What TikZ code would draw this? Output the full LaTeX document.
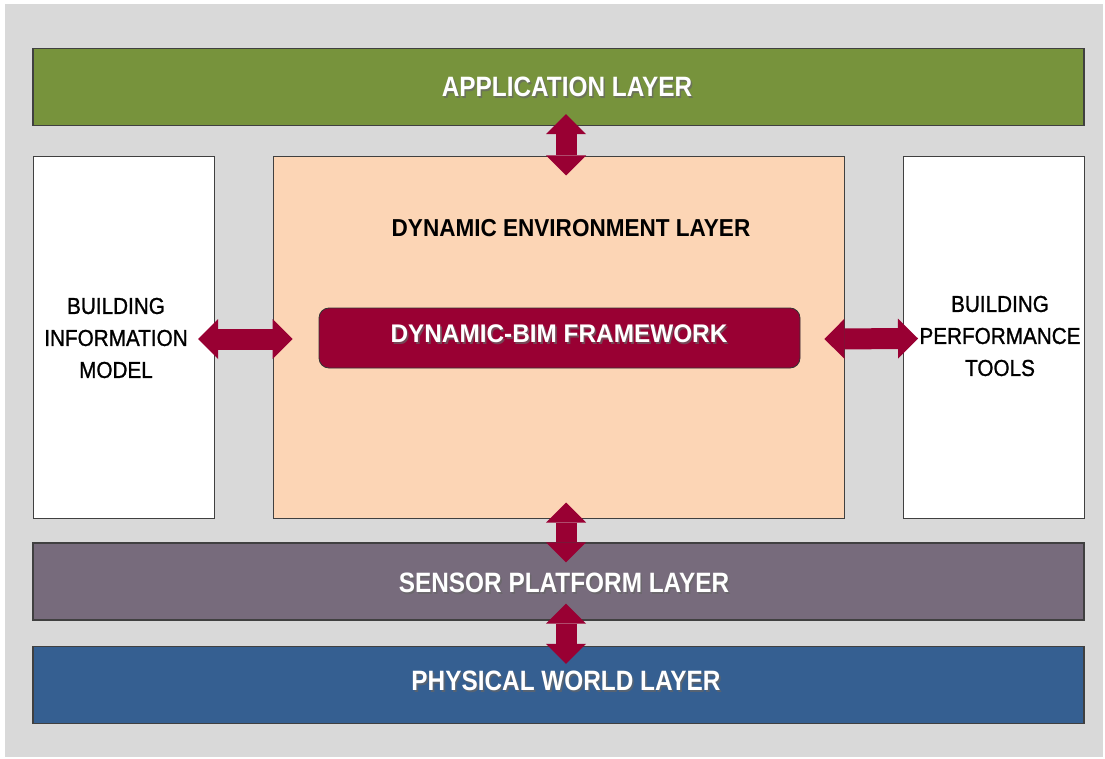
\documentclass[tikz,border=0pt]{standalone}
\usepackage{fontspec}
\setmainfont{Liberation Sans}
\newfontfamily\sidefam[FakeBold=1.2]{Liberation Sans}
\usetikzlibrary{arrows.meta,calc}
\definecolor{bggray}{HTML}{D9D9D9}
\definecolor{appgreen}{HTML}{77933C}
\definecolor{envpeach}{HTML}{FCD5B5}
\definecolor{fwred}{HTML}{990033}
\definecolor{sensgray}{HTML}{776B7C}
\definecolor{physblue}{HTML}{355F91}
\definecolor{edgegray}{HTML}{404040}
\newcommand{\layerfont}{\fontsize{28}{30}\selectfont\bfseries}
\newcommand{\sideline}[1]{\scalebox{0.9}[1]{#1}}
\newcommand{\shadowlabel}[4]{% name, position, horizontal scale, text
  \node[text=black!60, opacity=0.7, inner sep=0pt] (#1s) at ($(#2)+(1.6,1.6)$) {\layerfont\scalebox{#3}[1]{#4}};
  \node[text=white, inner sep=0pt] (#1) at (#2) {\layerfont\scalebox{#3}[1]{#4}};}
\begin{document}
\begin{tikzpicture}[x=1pt,y=-1pt,
  layerbox/.style={draw=edgegray, line width=1.3pt, minimum width=1051pt, minimum height=77pt, inner sep=0pt},
  sidebox/.style={draw=edgegray, line width=1pt, fill=white, minimum width=181pt, minimum height=361pt, inner sep=0pt},
  dblarrow/.style={draw=fwred, line width=21pt,
    {Triangle[width=40pt,length=20pt,line width=0pt]}-{Triangle[width=40pt,length=20pt,line width=0pt]}},
  sidetext/.style={align=center, inner sep=0pt, font=\fontsize{23}{32}\selectfont\sidefam}]
\useasboundingbox (0,0) rectangle (1105,759);
\fill[bggray] (5,4) rectangle (1103,757);
% boxes
\node[layerbox, fill=appgreen] (app) at (558.5,87) {};
\node[sidebox] (bim) at (124,337.5) {};
\node[draw=edgegray, line width=1pt, fill=envpeach, minimum width=571pt, minimum height=361pt, inner sep=0pt] (env) at (558.5,337.5) {};
\node[sidebox] (bpt) at (994,337.5) {};
\node[draw=edgegray!80!black, line width=0.8pt, fill=fwred, rounded corners=10pt, minimum width=481pt, minimum height=60pt, inner sep=0pt] (fw) at (559.5,338) {};
\node[layerbox, fill=sensgray] (sens) at (558.5,581.5) {};
\node[layerbox, fill=physblue] (phys) at (558.5,685) {};
% connectors
\draw[dblarrow] ($(app.south)+(7.5,-12)$) -- ($(env.north)+(7.5,19)$);
\draw[dblarrow] ($(bim.east)+(-17,1.5)$) -- ($(env.west)+(20,1.5)$);
\draw[dblarrow] ($(fw.east)+(24,1)$) -- ($(bpt.west)+(15,1)$);
\draw[dblarrow] ($(env.south)+(7.5,-16)$) -- ($(sens.north)+(7.5,20)$);
\draw[dblarrow] ($(sens.south)+(7.5,-17)$) -- ($(phys.north)+(7.5,18)$);
% texts
\shadowlabel{apptext}{567,87}{0.87}{APPLICATION LAYER}
\node[inner sep=0pt] (envtext) at (571,228) {\fontsize{24.5}{28}\selectfont\bfseries\scalebox{0.92}[1]{DYNAMIC ENVIRONMENT LAYER}};
\node[text=black!60, opacity=0.7, inner sep=0pt] (fwtexts) at (560.6,335.6) {\fontsize{25.5}{28}\selectfont\bfseries\scalebox{0.955}[1]{DYNAMIC-BIM FRAMEWORK}};
\node[text=white, inner sep=0pt] (fwtext) at (559,334) {\fontsize{25.5}{28}\selectfont\bfseries\scalebox{0.955}[1]{DYNAMIC-BIM FRAMEWORK}};
\node[sidetext] (bimtext) at (116,338) {\sideline{BUILDING}\\\sideline{INFORMATION}\\\sideline{MODEL}};
\node[sidetext] (bpttext) at (1000,336) {\sideline{BUILDING}\\\sideline{PERFORMANCE}\\\sideline{TOOLS}};
\shadowlabel{senstext}{564,583}{0.87}{SENSOR PLATFORM LAYER}
\shadowlabel{phystext}{566,681}{0.87}{PHYSICAL WORLD LAYER}
\end{tikzpicture}
\end{document}
